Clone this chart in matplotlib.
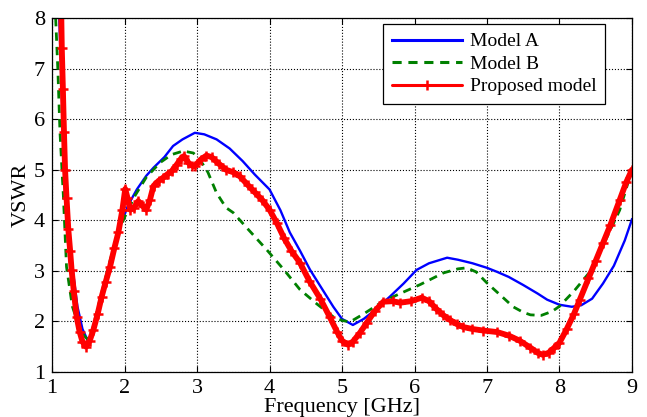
import matplotlib
matplotlib.use("Agg")
import matplotlib.pyplot as plt

# Model A (blue, solid)
freq_a = [1.10, 1.14, 1.18, 1.23, 1.27, 1.35, 1.42, 1.50, 1.58, 1.70, 1.82, 1.94, 2.05, 2.17,
          2.30, 2.40, 2.55, 2.67, 2.80, 2.97, 3.10, 3.27, 3.45, 3.63, 3.80, 4.00, 4.15, 4.28,
          4.42, 4.56, 4.70, 4.88, 5.00, 5.15, 5.30, 5.45, 5.66, 5.85, 6.03, 6.20, 6.45, 6.60,
          6.80, 7.00, 7.14, 7.30, 7.50, 7.70, 7.83, 8.00, 8.17, 8.30, 8.45, 8.60, 8.75, 8.90, 9.00]
vswr_a = [8.00, 6.30, 4.50, 3.70, 3.20, 2.30, 1.85, 1.60, 1.85, 2.50, 3.20, 3.88, 4.30, 4.61,
          4.88, 5.04, 5.25, 5.47, 5.60, 5.73, 5.70, 5.60, 5.42, 5.17, 4.90, 4.61, 4.20, 3.76,
          3.40, 3.02, 2.70, 2.29, 2.05, 1.93, 2.05, 2.22, 2.49, 2.75, 3.02, 3.15, 3.26, 3.22,
          3.15, 3.06, 2.98, 2.88, 2.72, 2.55, 2.43, 2.33, 2.29, 2.32, 2.45, 2.75, 3.10, 3.60, 4.02]

# Model B (green, dashed)
freq_b = [1.05, 1.08, 1.11, 1.156, 1.20, 1.28, 1.36, 1.44, 1.49, 1.56, 1.66, 1.80, 1.92, 2.03,
          2.15, 2.30, 2.49, 2.65, 2.81, 2.95, 3.04, 3.15, 3.27, 3.40, 3.50, 3.70, 3.96, 4.20,
          4.42, 4.65, 4.88, 5.00, 5.11, 5.30, 5.57, 5.80, 6.08, 6.40, 6.60, 6.72, 6.85, 7.00,
          7.20, 7.36, 7.50, 7.60, 7.75, 7.90, 8.00, 8.20, 8.42, 8.60, 8.83, 9.00]
vswr_b = [8.00, 7.00, 5.74, 4.50, 3.08, 2.30, 1.95, 1.72, 1.65, 1.85, 2.43, 3.20, 3.80, 4.15,
          4.50, 4.85, 5.14, 5.30, 5.37, 5.33, 5.20, 4.95, 4.54, 4.25, 4.15, 3.83, 3.42, 3.02,
          2.63, 2.35, 2.09, 2.02, 1.99, 2.15, 2.40, 2.55, 2.73, 2.96, 3.04, 3.06, 2.98, 2.76,
          2.50, 2.29, 2.18, 2.13, 2.12, 2.20, 2.30, 2.60, 2.98, 3.50, 4.20, 5.00]

# Proposed model (red, with + markers)
freq_p = [1.125, 1.135, 1.15, 1.165, 1.18, 1.20, 1.225, 1.25, 1.27, 1.30, 1.34, 1.38, 1.42,
          1.47, 1.52, 1.57, 1.63, 1.685, 1.74, 1.80, 1.86, 1.915, 1.97, 2.01, 2.04, 2.08,
          2.13, 2.19, 2.25, 2.30, 2.35, 2.40, 2.47, 2.53, 2.60, 2.65, 2.72, 2.78, 2.82, 2.88,
          2.93, 2.97, 3.05, 3.13, 3.20, 3.30, 3.40, 3.50, 3.59, 3.70, 3.80, 3.90, 4.00, 4.10,
          4.20, 4.30, 4.42, 4.55, 4.70, 4.83, 4.93, 5.00, 5.08, 5.15, 5.25, 5.34, 5.45, 5.57,
          5.70, 5.80, 5.95, 6.10, 6.20, 6.30, 6.40, 6.49, 6.58, 6.67, 6.80, 6.95, 7.14, 7.30,
          7.45, 7.60, 7.70, 7.77, 7.85, 7.92, 8.00, 8.10, 8.20, 8.28, 8.40, 8.50, 8.60, 8.70,
          8.83, 8.92, 9.00]
vswr_p = [8.30, 7.40, 6.60, 5.75, 5.00, 4.45, 3.82, 3.40, 3.02, 2.60, 2.09, 1.80, 1.60,
          1.50, 1.62, 1.83, 2.15, 2.49, 2.78, 3.08, 3.45, 3.76, 4.20, 4.62, 4.45, 4.21,
          4.25, 4.38, 4.28, 4.21, 4.40, 4.68, 4.78, 4.84, 4.92, 4.97, 5.10, 5.22, 5.27, 5.14,
          5.08, 5.07, 5.20, 5.28, 5.25, 5.12, 5.00, 4.95, 4.87, 4.70, 4.55, 4.40, 4.21, 3.95,
          3.65, 3.40, 3.16, 2.80, 2.45, 2.09, 1.80, 1.62, 1.54, 1.60, 1.78, 1.97, 2.20, 2.39,
          2.40, 2.37, 2.40, 2.47, 2.40, 2.25, 2.12, 2.03, 1.95, 1.89, 1.85, 1.82, 1.79, 1.72,
          1.62, 1.48, 1.38, 1.34, 1.38, 1.47, 1.58, 1.85, 2.15, 2.43, 2.85, 3.20, 3.55, 3.90,
          4.40, 4.75, 5.00]

labels = ["Model A", "Model B", "Proposed model"]
xticks = [1, 2, 3, 4, 5, 6, 7, 8, 9]
yticks = [1, 2, 3, 4, 5, 6, 7, 8]

plt.rcParams['font.family'] = ['Liberation Serif', 'DejaVu Serif']

fig = plt.figure(figsize=(6.47, 4.17), dpi=100)
ax = fig.add_axes([0.0804, 0.1079, 0.8964, 0.8489])

ax.plot(freq_a, vswr_a, color=(0, 0, 1), lw=1.7, label=labels[0])
ax.plot(freq_b, vswr_b, color=(0, 0.5, 0), lw=2.0, ls=(0, (3, 2.2)), label=labels[1])
ax.plot(freq_p, vswr_p, color=(1, 0, 0), lw=4.2, marker='+', ms=7, mew=1.8,
        solid_capstyle='round', solid_joinstyle='round', label=labels[2])

ax.set_xlim(1, 9)
ax.set_ylim(1, 8)
ax.set_xticks(xticks)
ax.set_yticks(yticks)
ax.tick_params(direction='in', top=True, right=True, labelsize=16, length=4, pad=5)
ax.grid(True, color='black', ls=':', lw=0.8)
for s in ax.spines.values():
    s.set_linewidth(0.9)

ax.set_xlabel("Frequency [GHz]", fontsize=16, labelpad=0)
ax.set_ylabel("VSWR", fontsize=16, labelpad=2)

leg = ax.legend(loc='upper right', bbox_to_anchor=(0.954, 0.983), fontsize=14,
                handlelength=3.6, fancybox=False, edgecolor='black', framealpha=1,
                borderpad=0.45, labelspacing=0.25, handletextpad=0.4, borderaxespad=0)
leg.get_frame().set_linewidth(0.9)
for h in leg.get_lines():
    h.set_linewidth(2.2)

fig.savefig("out.png", dpi=100)
